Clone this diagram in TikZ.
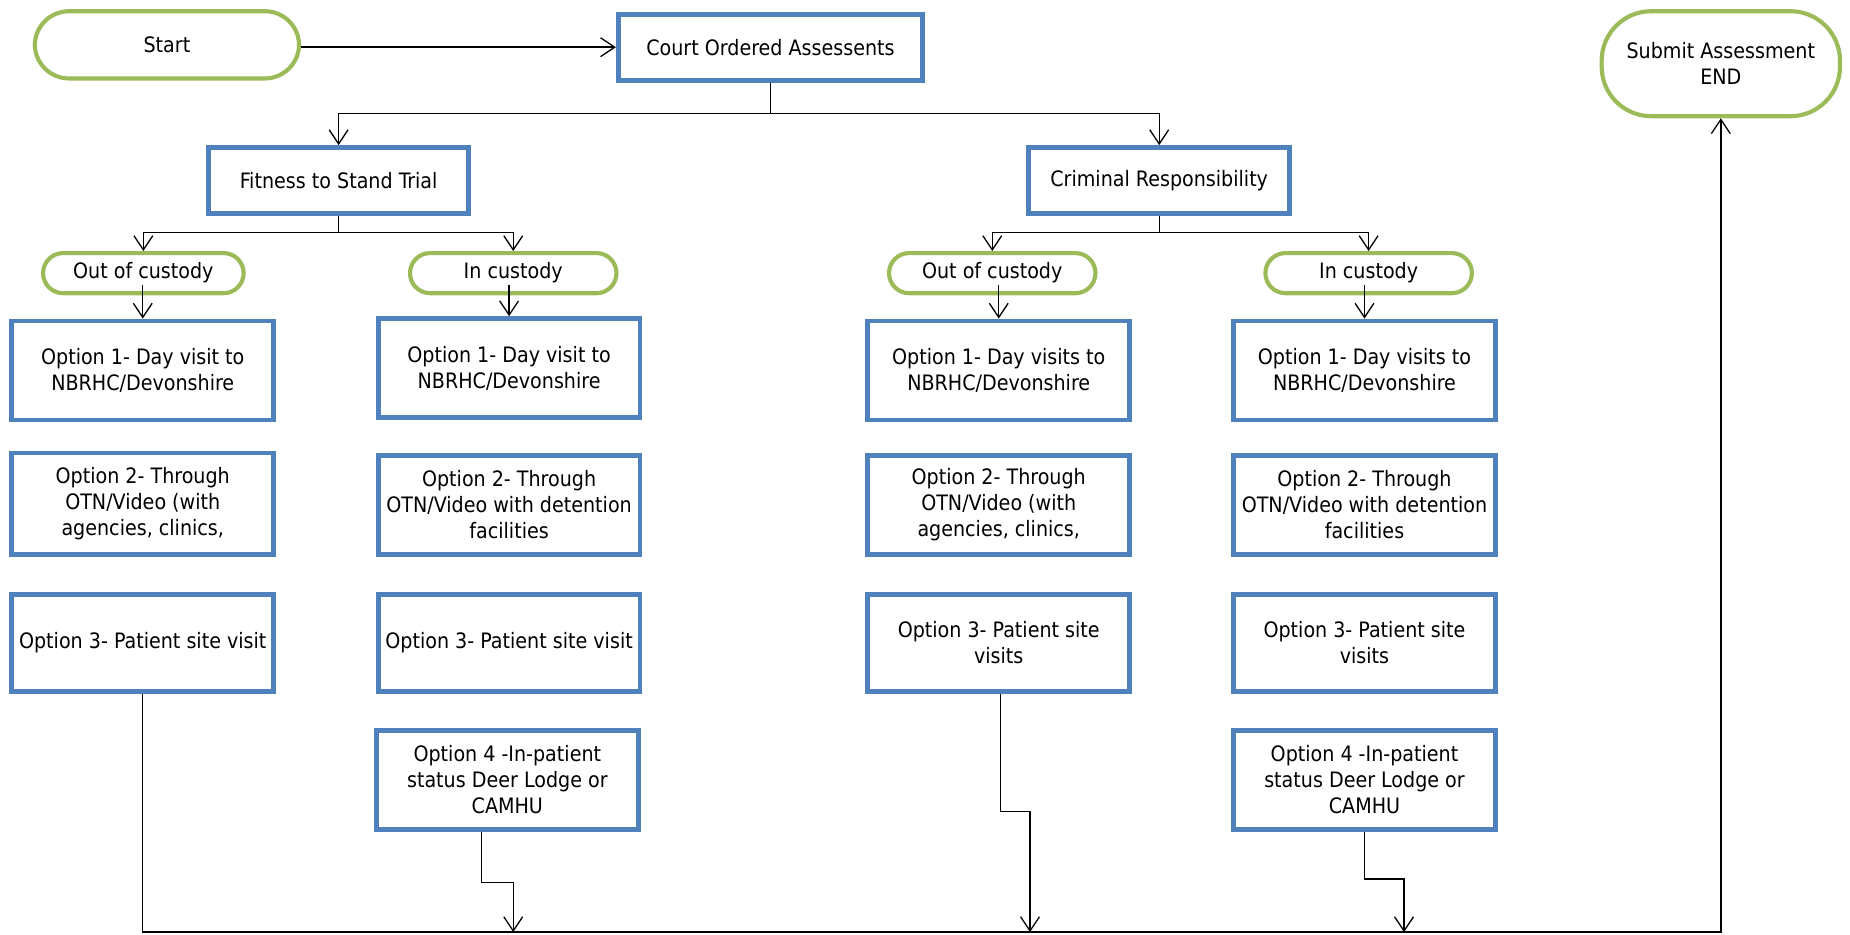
\documentclass[tikz,border=0pt]{standalone}
\usepackage{fontspec}
\setmainfont{DejaVu Sans Condensed}
\usetikzlibrary{arrows.meta}
\definecolor{boxblue}{HTML}{4F81BD}
\definecolor{termgreen}{HTML}{9BBB59}
\begin{document}
\begin{tikzpicture}[x=1pt,y=-1pt,
  font=\fontsize{18}{22}\selectfont,
  optbox/.style={draw=boxblue,line width=4pt,fill=white,align=center,inner sep=1pt,minimum width=222pt,minimum height=84pt},
  termbox/.style={draw=termgreen,line width=3.5pt,fill=white,align=center,inner sep=1pt,rounded corners=#1},
  conn/.style={draw=black,line width=1.2pt},
  arr/.style={conn,-{Straight Barb[length=12pt,width=16pt,line width=1.1pt]}}
]
\useasboundingbox (0,0) rectangle (1568,792);

% top row
\node[termbox=29pt,minimum width=224pt,minimum height=57pt] (start) at (141.5,38) {Start};
\node[optbox,minimum width=258pt,minimum height=56pt] (court) at (653,40) {Court Ordered Assessents};
\node[termbox=42pt,minimum width=202pt,minimum height=89pt] (end) at (1458.5,54) {Submit Assessment\\END};

% second row
\node[optbox,minimum width=220pt,minimum height=56pt] (fit) at (287,153) {Fitness to Stand Trial};
\node[optbox,minimum width=221pt,minimum height=56pt] (crim) at (982.5,153) {Criminal Responsibility};

% custody terminals
\node[termbox=17pt,minimum width=170pt,minimum height=34pt] (oc1) at (121.5,231.5) {Out of custody};
\node[termbox=17pt,minimum width=175pt,minimum height=34pt] (ic1) at (435,231.5) {In custody};
\node[termbox=17pt,minimum width=175pt,minimum height=34pt] (oc2) at (841,231.5) {Out of custody};
\node[termbox=17pt,minimum width=175pt,minimum height=34pt] (ic2) at (1160,231.5) {In custody};

% column 1
\node[optbox] (o11) at (121,314) {Option 1- Day visit to\\NBRHC/Devonshire};
\node[optbox,minimum height=86pt] (o12) at (121,427) {Option 2- Through\\OTN/Video (with\\agencies, clinics,};
\node[optbox,minimum height=82pt] (o13) at (121,545) {Option 3- Patient site visit};

% column 2
\node[optbox] (o21) at (431.5,312) {Option 1- Day visit to\\NBRHC/Devonshire};
\node[optbox] (o22) at (431.5,428) {Option 2- Through\\OTN/Video with detention\\facilities};
\node[optbox,minimum height=82pt] (o23) at (431.5,545) {Option 3- Patient site visit};
\node[optbox] (o24) at (430,661) {Option 4 -In-patient\\status Deer Lodge or\\CAMHU};

% column 3
\node[optbox] (o31) at (846.5,314) {Option 1- Day visits to\\NBRHC/Devonshire};
\node[optbox] (o32) at (846.5,428) {Option 2- Through\\OTN/Video (with\\agencies, clinics,};
\node[optbox,minimum height=82pt] (o33) at (846.5,545) {Option 3- Patient site\\visits};

% column 4
\node[optbox] (o41) at (1156.5,314) {Option 1- Day visits to\\NBRHC/Devonshire};
\node[optbox] (o42) at (1156.5,428) {Option 2- Through\\OTN/Video with detention\\facilities};
\node[optbox,minimum height=82pt] (o43) at (1156.5,545) {Option 3- Patient site\\visits};
\node[optbox] (o44) at (1156.5,661) {Option 4 -In-patient\\status Deer Lodge or\\CAMHU};

% branch coordinates
\coordinate (b1) at (653,96);
\coordinate (b2) at (287,197);
\coordinate (b3) at (982.5,197);
\coordinate (bl) at (122,790);

% connectors
\draw[arr] (start.east |- court.west) -- (court.west);
\draw[conn] (court.south) -- (b1);
\draw[arr] (b1) -| (fit.north);
\draw[arr] (b1) -| (crim.north);

\draw[conn] (fit.south) -- (b2);
\draw[arr] (b2) -| (oc1.north);
\draw[arr] (b2) -| (ic1.north);
\draw[conn] (crim.south) -- (b3);
\draw[arr] (b3) -| (oc2.north);
\draw[arr] (b3) -| (ic2.north);

\draw[arr] ([yshift=9pt]o11.north |- oc1.south) -- (o11.north);
\draw[arr] ([yshift=9pt]o21.north |- ic1.south) -- (o21.north);
\draw[arr] ([yshift=9pt]o31.north |- oc2.south) -- (o31.north);
\draw[arr] ([yshift=9pt]o41.north |- ic2.south) -- (o41.north);

% bottom collector to end
\draw[arr] (o13.south) |- (end.south |- bl) -- (end.south);
\draw[arr] ([xshift=-22pt]o24.south) -- ++(0,43) -| ([xshift=5pt]o24.south |- bl);
\draw[arr] ([xshift=1.5pt]o33.south) -- ++(0,100) -| ([xshift=26.5pt]o33.south |- bl);
\draw[arr] (o44.south) -- ++(0,40) -| ([xshift=33.5pt]o44.south |- bl);
\end{tikzpicture}
\end{document}
